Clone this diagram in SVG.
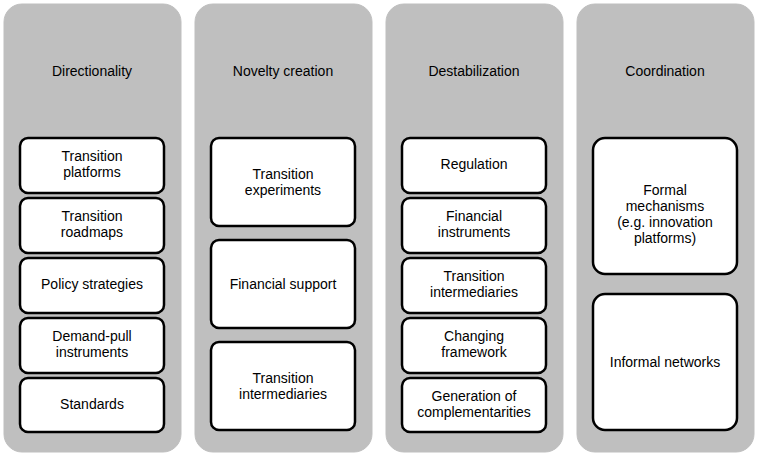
<svg xmlns="http://www.w3.org/2000/svg" width="758" height="456" viewBox="0 0 758 456">
<style>
.col{fill:#bfbfbf;stroke:#bfbfbf}
.box{fill:#fff;stroke:#000;stroke-width:2.5}
text{font-family:"Liberation Sans",Arial,sans-serif;font-size:14px;fill:#000;text-anchor:middle}
</style>
<rect width="758" height="456" fill="#fff"/>
<g id="col1"><rect class="col" x="4" y="4" width="177" height="448" rx="18"/><text x="92" y="76">Directionality</text></g>
<g id="col2"><rect class="col" x="195" y="4" width="177" height="448" rx="18"/><text x="283" y="76">Novelty creation</text></g>
<g id="col3"><rect class="col" x="386" y="4" width="177" height="448" rx="18"/><text x="474" y="76">Destabilization</text></g>
<g id="col4"><rect class="col" x="577" y="4" width="177" height="448" rx="18"/><text x="665" y="76">Coordination</text></g>
<g id="d1"><rect class="box" x="20" y="138" width="144" height="55" rx="8"/><text x="92" y="161">Transition</text><text x="92" y="177">platforms</text></g>
<g id="d2"><rect class="box" x="20" y="198" width="144" height="55" rx="8"/><text x="92" y="221">Transition</text><text x="92" y="237">roadmaps</text></g>
<g id="d3"><rect class="box" x="20" y="258" width="144" height="55" rx="8"/><text x="92" y="289">Policy strategies</text></g>
<g id="d4"><rect class="box" x="20" y="318" width="144" height="55" rx="8"/><text x="92" y="341">Demand-pull</text><text x="92" y="357">instruments</text></g>
<g id="d5"><rect class="box" x="20" y="378" width="144" height="54" rx="8"/><text x="92" y="409">Standards</text></g>
<g id="n1"><rect class="box" x="211" y="138" width="144" height="88" rx="8"/><text x="283" y="179">Transition</text><text x="283" y="195">experiments</text></g>
<g id="n2"><rect class="box" x="211" y="240" width="144" height="88" rx="8"/><text x="283" y="289">Financial support</text></g>
<g id="n3"><rect class="box" x="211" y="342" width="144" height="88" rx="8"/><text x="283" y="383">Transition</text><text x="283" y="399">intermediaries</text></g>
<g id="s1"><rect class="box" x="402" y="138" width="144" height="55" rx="8"/><text x="474" y="169">Regulation</text></g>
<g id="s2"><rect class="box" x="402" y="198" width="144" height="55" rx="8"/><text x="474" y="221">Financial</text><text x="474" y="237">instruments</text></g>
<g id="s3"><rect class="box" x="402" y="258" width="144" height="55" rx="8"/><text x="474" y="281">Transition</text><text x="474" y="297">intermediaries</text></g>
<g id="s4"><rect class="box" x="402" y="318" width="144" height="55" rx="8"/><text x="474" y="341">Changing</text><text x="474" y="357">framework</text></g>
<g id="s5"><rect class="box" x="402" y="378" width="144" height="54" rx="8"/><text x="474" y="401">Generation of</text><text x="474" y="417">complementarities</text></g>
<g id="c1"><rect class="box" x="593" y="138" width="144" height="136" rx="12"/><text x="665" y="195">Formal</text><text x="665" y="211">mechanisms</text><text x="665" y="227">(e.g. innovation</text><text x="665" y="243">platforms)</text></g>
<g id="c2"><rect class="box" x="593" y="294" width="144" height="136" rx="12"/><text x="665" y="367">Informal networks</text></g>
<g id="connectors"/>
</svg>
